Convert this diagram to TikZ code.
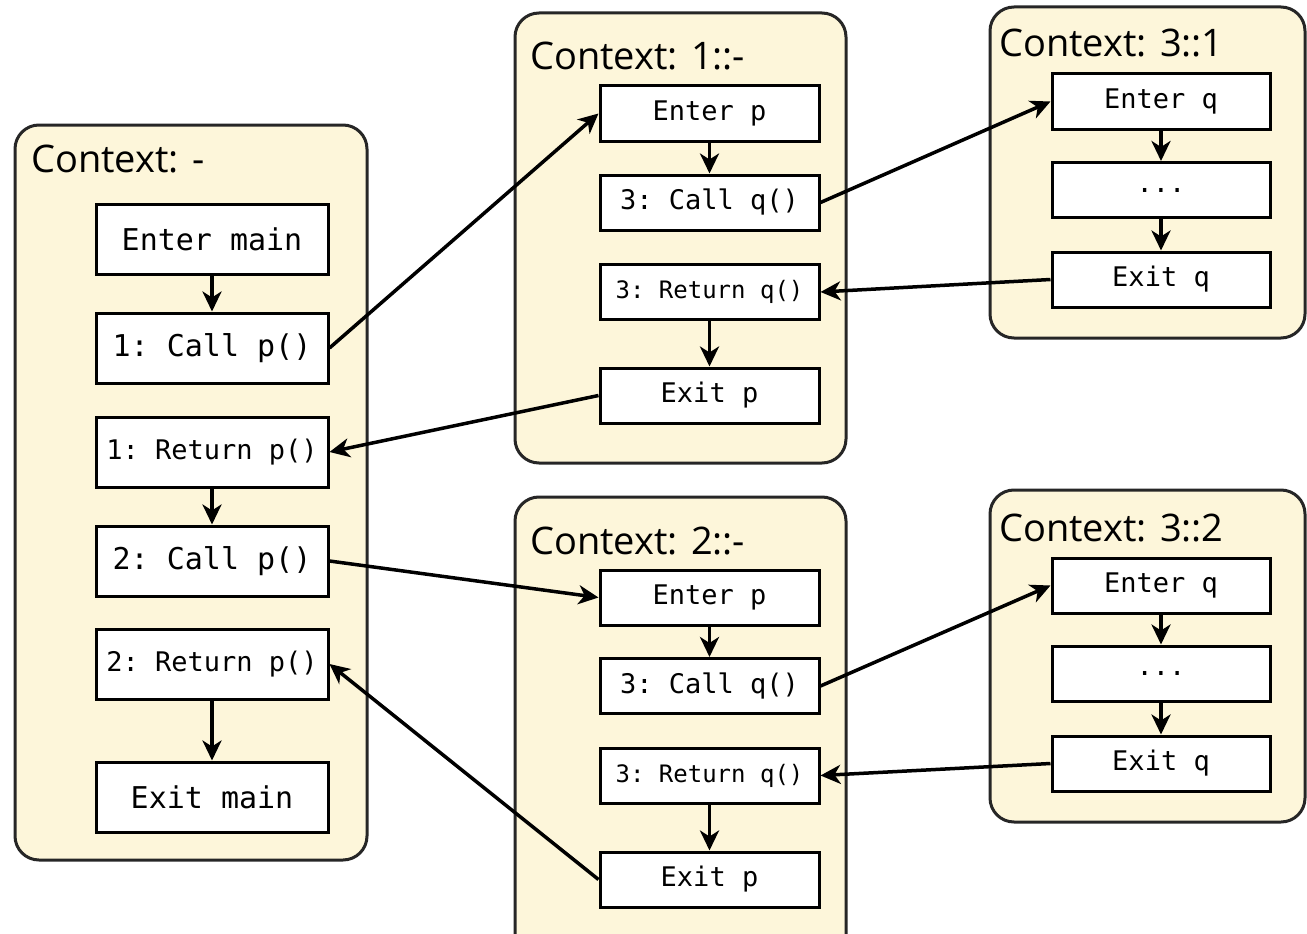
\documentclass[tikz,border=0pt]{standalone}
\usepackage{fontspec}
\setmainfont{Open Sans}
\setmonofont{DejaVu Sans Mono}
\usetikzlibrary{arrows.meta}
\definecolor{panelfill}{RGB}{253,246,218}
\begin{document}
\begin{tikzpicture}[x=1pt,y=-1pt,
 panel/.style={draw=black!85, line width=3pt, fill=panelfill, rounded corners=24pt},
 title/.style={anchor=base west, inner sep=0pt, font=\fontsize{38}{40}\selectfont},
 stmt/.style={draw=black, line width=3pt, fill=white, inner sep=0pt, font=\ttfamily\fontsize{27}{30}\selectfont},
 mainbox/.style={stmt, minimum width=232pt, minimum height=70pt},
 pbox/.style={stmt, minimum width=219pt, minimum height=55pt},
 qbox/.style={stmt, minimum width=218pt, minimum height=55pt},
 big/.style={font=\ttfamily\fontsize{30}{32}\selectfont},
 small/.style={font=\ttfamily\fontsize{24}{26}\selectfont},
 flow/.style={line width=3.5pt, -{Stealth[length=20pt,width=19pt,inset=6pt]}},
]
\useasboundingbox (0,0) rectangle (1307,934);
\clip (0,0) rectangle (1307,934);
% panels
\draw[panel] (15,125) rectangle (367,860);
\draw[panel] (515,13) rectangle (846,463);
\draw[panel] (515,497) rectangle (846,960);
\draw[panel] (990,7) rectangle (1305,338);
\draw[panel] (990,490) rectangle (1305,822);
% titles
\node[title] (t0) at (31,172) {Context: -};
\node[title] (t1) at (530,70) {Context: 1::-};
\node[title] (t2) at (530,554) {Context: 2::-};
\node[title] (t3) at (999,57) {Context: 3::1};
\node[title] (t4) at (999,541) {Context: 3::2};
% main
\node[mainbox,big] (em) at (212,239) {Enter main};
\node[mainbox,big] (c1) at (212,348) {1: Call p()};
\node[mainbox] (r1) at (212,452) {1: Return p()};
\node[mainbox,big] (c2) at (212,561) {2: Call p()};
\node[mainbox] (r2) at (212,664) {2: Return p()};
\node[mainbox,big] (xm) at (212,797) {Exit main};
% p (1)
\node[pbox] (ep1) at (709.5,113.5) {Enter p};
\node[pbox] (cq1) at (709.5,202.5) {3: Call q()};
\node[pbox,small] (rq1) at (709.5,292) {3: Return q()};
\node[pbox] (xp1) at (709.5,395.5) {Exit p};
% p (2)
\node[pbox] (ep2) at (709.5,597.5) {Enter p};
\node[pbox] (cq2) at (709.5,686) {3: Call q()};
\node[pbox,small] (rq2) at (709.5,775.5) {3: Return q()};
\node[pbox] (xp2) at (709.5,879.5) {Exit p};
% q (1)
\node[qbox] (eq1) at (1161,101.5) {Enter q};
\node[qbox] (d1) at (1161,190) {...};
\node[qbox] (xq1) at (1161,279.5) {Exit q};
% q (2)
\node[qbox] (eq2) at (1161,585.5) {Enter q};
\node[qbox] (d2) at (1161,673.5) {...};
\node[qbox] (xq2) at (1161,763.5) {Exit q};
% internal flow
\draw[flow] (em) -- (c1);
\draw[flow] (r1) -- (c2);
\draw[flow] (r2) -- (xm);
\draw[flow] (ep1) -- (cq1);
\draw[flow] (rq1) -- (xp1);
\draw[flow] (ep2) -- (cq2);
\draw[flow] (rq2) -- (xp2);
\draw[flow] (eq1) -- (d1);
\draw[flow] (d1) -- (xq1);
\draw[flow] (eq2) -- (d2);
\draw[flow] (d2) -- (xq2);
% calls and returns
\draw[flow] (c1.east) -- (ep1.west);
\draw[flow] (xp1.west) -- (r1.east);
\draw[flow] (c2.east) -- (ep2.west);
\draw[flow] (xp2.west) -- (r2.east);
\draw[flow] (cq1.east) -- (eq1.west);
\draw[flow] (xq1.west) -- (rq1.east);
\draw[flow] (cq2.east) -- (eq2.west);
\draw[flow] (xq2.west) -- (rq2.east);
\end{tikzpicture}
\end{document}
